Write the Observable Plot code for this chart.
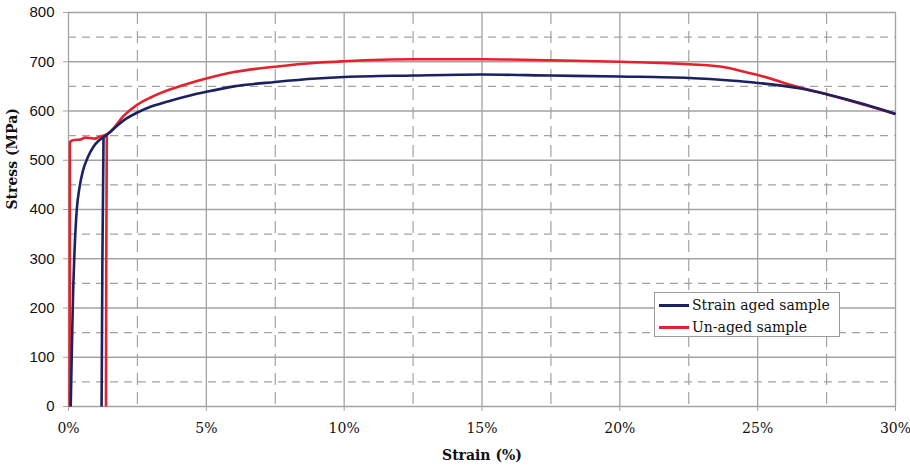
<!DOCTYPE html>
<html>
<head>
<meta charset="utf-8">
<script src="https://cdn.jsdelivr.net/npm/d3@7"></script>
<script src="https://cdn.jsdelivr.net/npm/@observablehq/plot@0.6"></script>
<style>
  html, body { margin: 0; padding: 0; background: #fff; }
  #chart { position: relative; width: 910px; height: 470px; }
  .legend {
    position: absolute; left: 654px; top: 292px; width: 186px; height: 45px;
    border: 1px solid #9a9a9a; background: #fff; box-sizing: border-box;
    font-family: "DejaVu Serif", serif; font-size: 14px; color: #111;
  }
  .legend .row { position: absolute; left: 4px; height: 20px; display: flex; align-items: center; }
  .legend .sw { width: 30px; height: 0; border-top: 3px solid; margin-right: 3px; }
</style>
</head>
<body>
<div id="chart"></div>
<script>
// Tensile test curves: engineering stress (MPa) vs strain (%)
const seriesNames = ["Strain aged sample", "Un-aged sample"];
const seriesColors = ["#1c2160", "#e4222b"];

// Strain aged sample: main loading curve [strain %, stress MPa]
const agedMain = [
  [0.08, 0], [0.12, 110], [0.16, 215], [0.22, 317], [0.3, 400], [0.4, 445],
  [0.52, 478], [0.7, 506], [0.9, 527], [1.1, 540], [1.3, 548], [1.5, 557],
  [2, 581], [2.5, 597], [3, 609], [3.7, 621], [4.3, 630], [5, 639], [6, 650],
  [7.5, 659], [9, 666], [10, 669], [12.5, 672], [15, 674], [17.5, 672],
  [20, 670], [22.5, 667], [24, 662], [25, 657], [26.5, 646], [27.5, 634],
  [28.9, 613], [30, 594]
];
// Strain aged sample: reloading branch
const agedReload = [[1.2, 0], [1.23, 300], [1.27, 545]];

// Un-aged sample: main loading curve with yield plateau
const unagedMain = [
  [0.04, 0], [0.05, 537], [0.2, 541], [0.44, 542], [0.6, 546], [0.8, 545],
  [0.95, 544], [1.1, 547], [1.4, 553], [1.52, 558], [2, 590], [2.5, 613],
  [3, 628], [3.7, 644], [4.3, 655], [5, 666], [6, 679], [7.5, 690],
  [9, 698], [10, 701], [12.5, 705], [15, 705], [17.5, 703], [20, 700],
  [22.5, 695], [23.9, 688], [24.4, 681], [25, 673], [26.5, 648],
  [27.5, 634], [28.9, 612], [30, 594]
];
// Un-aged sample: reloading branch
const unagedReload = [[1.36, 0], [1.37, 300], [1.39, 553]];

// Axis ticks and grid
const xMajor = [0, 5, 10, 15, 20, 25, 30];
const xMinor = [2.5, 7.5, 12.5, 17.5, 22.5, 27.5];
const yMajor = [0, 100, 200, 300, 400, 500, 600, 700, 800];
const yMinor = [50, 150, 250, 350, 450, 550, 650, 750];

const toRows = (pts, series, seg) => pts.map(([x, y]) => ({x, y, series, seg}));
const rows = [
  ...toRows(unagedMain, seriesNames[1], "u1"),
  ...toRows(unagedReload, seriesNames[1], "u2"),
  ...toRows(agedMain, seriesNames[0], "a1"),
  ...toRows(agedReload, seriesNames[0], "a2")
];

const gridColor = "#a3a3a3";

const chart = Plot.plot({
  width: 910,
  height: 470,
  marginLeft: 68,
  marginRight: 15,
  marginTop: 12,
  marginBottom: 64,
  style: { fontFamily: "DejaVu Serif, serif", fontSize: "14px", color: "#111", background: "#fff" },
  x: { domain: [0, 30] },
  y: { domain: [0, 800] },
  color: { domain: seriesNames, range: seriesColors },
  marks: [
    Plot.ruleY(yMinor, { stroke: gridColor, strokeWidth: 1.2, strokeDasharray: "8,6" }),
    Plot.ruleX(xMinor, { stroke: gridColor, strokeWidth: 1.2, strokeDasharray: "12,7" }),
    Plot.ruleY(yMajor, { stroke: gridColor, strokeWidth: 1.3 }),
    Plot.ruleX(xMajor, { stroke: gridColor, strokeWidth: 1.3 }),
    Plot.axisY({
      ticks: yMajor, tickSize: 5, tickPadding: 9, label: null, stroke: gridColor,
      fontFamily: "Liberation Sans, Arial, sans-serif", fontSize: 15
    }),
    Plot.axisX({
      ticks: xMajor, tickSize: 5, tickPadding: 12, label: null, stroke: gridColor,
      tickFormat: d => d + "%", fontSize: 14
    }),
    Plot.line(rows, {
      x: "x", y: "y", z: "seg", stroke: "series", strokeWidth: 2.6,
      curve: "monotone-x", strokeLinejoin: "round", strokeLinecap: "butt"
    }),
    Plot.text(["Stress (MPa)"], {
      frameAnchor: "left", dx: -56, rotate: -90, fontWeight: "bold", fontSize: 14
    }),
    Plot.text(["Strain (%)"], {
      frameAnchor: "bottom", dy: 53, fontWeight: "bold", fontSize: 14
    })
  ]
});

const host = document.getElementById("chart");
host.appendChild(chart);

// Legend box placed inside the plot area
const legend = document.createElement("div");
legend.className = "legend";
seriesNames.forEach((name, i) => {
  const row = document.createElement("div");
  row.className = "row";
  row.style.top = (2 + i * 22) + "px";
  const sw = document.createElement("span");
  sw.className = "sw";
  sw.style.borderTopColor = seriesColors[i];
  const label = document.createElement("span");
  label.textContent = name;
  row.appendChild(sw);
  row.appendChild(label);
  legend.appendChild(row);
});
host.appendChild(legend);
</script>
</body>
</html>
